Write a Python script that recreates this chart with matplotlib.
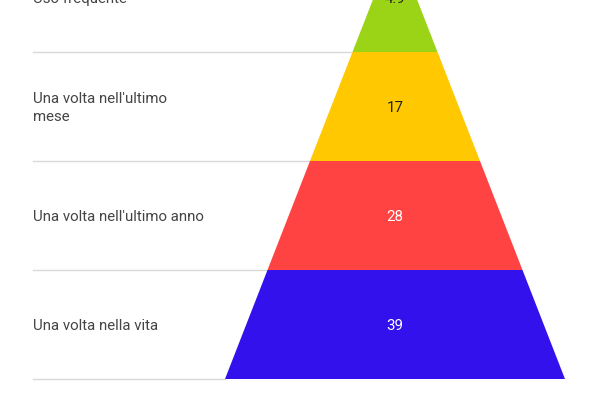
import matplotlib
matplotlib.use("Agg")
import matplotlib.pyplot as plt
from matplotlib.patches import Polygon

plt.rcParams['font.family'] = ['Roboto', 'DejaVu Sans']

# data, top of the pyramid first
labels = ["Uso frequente", "Una volta nell'ultimo\nmese", "Una volta nell'ultimo anno", "Una volta nella vita"]
values = [4.9, 17, 28, 39]
colors = ["#9bd416", "#ffc800", "#ff4343", "#3311ec"]
text_colors = ["#222222", "#222222", "#ffffff", "#ffffff"]

# layout in pixel units
W, H = 600, 400
apex_y = -57
base_y = 379
cx = 395
half_base = 170
label_x = 33
fs = 10.8

fig = plt.figure(figsize=(6, 4), dpi=100)
ax = fig.add_axes([0, 0, 1, 1])
ax.set_xlim(0, W)
ax.set_ylim(H, 0)
ax.axis("off")

n = len(values)
band = (base_y - apex_y) / n


def half_width(y):
    return half_base * (y - apex_y) / (base_y - apex_y)


for i in range(n):
    y0 = apex_y + i * band
    y1 = y0 + band
    w0 = half_width(y0)
    w1 = half_width(y1)
    poly = Polygon([(cx - w0, y0), (cx + w0, y0), (cx + w1, y1), (cx - w1, y1)],
                   closed=True, facecolor=colors[i], edgecolor="none", zorder=2)
    ax.add_patch(poly)
    ym = (y0 + y1) / 2 + 1.5
    ax.text(cx, ym, f"{values[i]:g}", ha="center", va="center",
            fontsize=fs, color=text_colors[i], zorder=3)
    ax.text(label_x, ym, labels[i], ha="left", va="center",
            fontsize=fs, color="#444444", linespacing=1.45)
    ax.plot([label_x, cx - w1], [y1, y1], color="#d9d9d9", lw=1, zorder=1)

fig.savefig("out.png", dpi=100)
